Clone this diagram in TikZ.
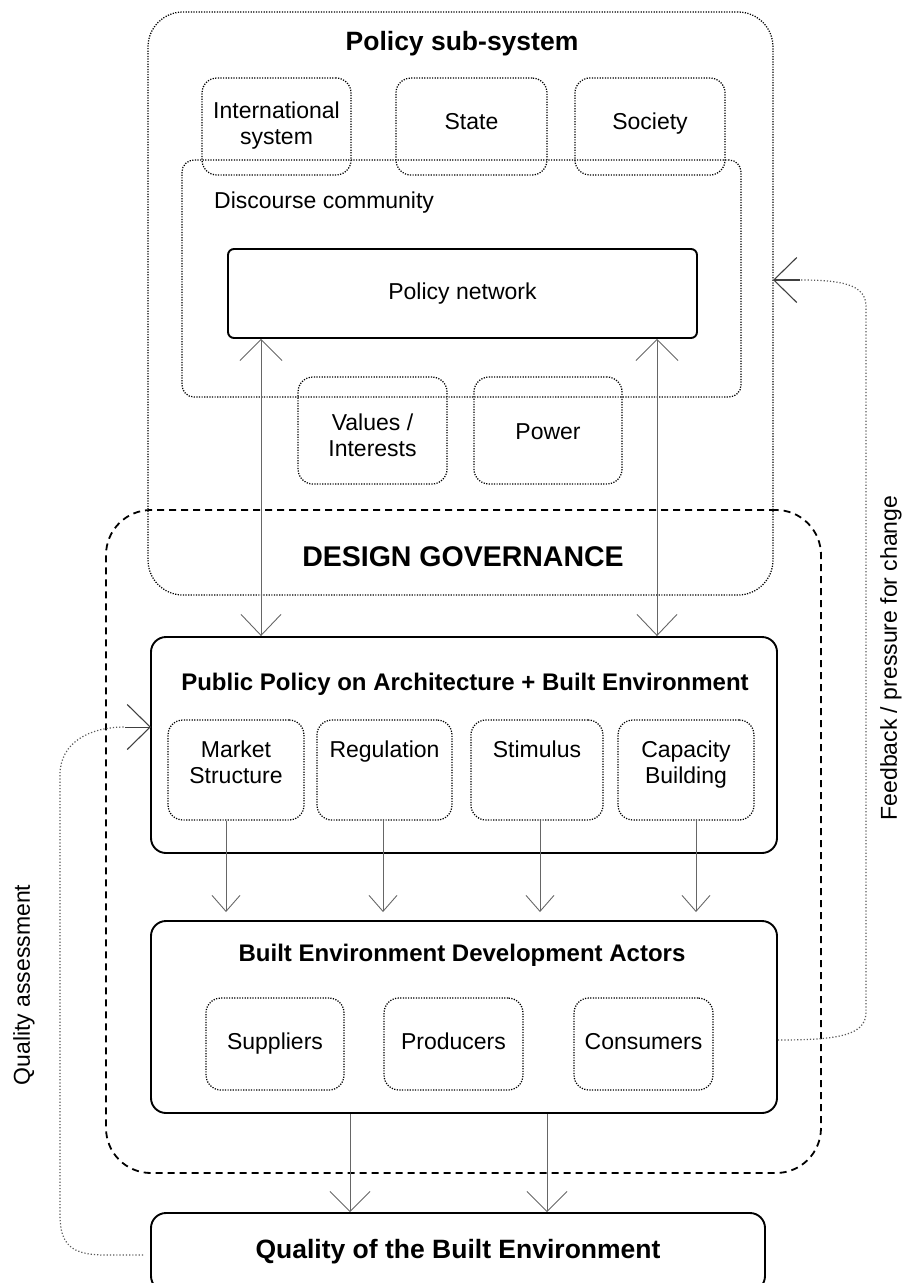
\documentclass[tikz,border=0pt]{standalone}
\usepackage{fontspec}
\setmainfont{Liberation Sans}
\usetikzlibrary{arrows.meta,calc}
\newcommand{\fsreg}{\fontsize{23}{26}\selectfont}
\newcommand{\fshead}{\fontsize{24}{28}\selectfont\bfseries}
\newcommand{\fstitle}{\fontsize{26.5}{30}\selectfont\bfseries}
\newcommand{\fsdg}{\fontsize{28.5}{32}\selectfont\bfseries}
\begin{document}
\begin{tikzpicture}[x=1pt,y=-1pt,
  dotbox/.style={draw=black, line width=1.25pt, dash pattern=on 1.2pt off 1.4pt, rounded corners=15pt, inner sep=0pt, align=center, font=\fsreg},
  solidbox/.style={draw=black, line width=1.9pt, rounded corners=15pt, inner sep=0pt, align=center},
  dashbox/.style={draw=black, line width=1.8pt, dash pattern=on 7pt off 5pt, rounded corners=45pt, inner sep=0pt},
  txt/.style={inner sep=0pt, align=center, font=\fsreg},
  oneline/.style={text height=16.5pt, text depth=4.8pt},
  conn/.style={draw=black!60, line width=0.9pt},
  biarr/.style={conn, {Straight Barb[length=21pt,width=42pt]}-{Straight Barb[length=21pt,width=40pt]}},
  smallarr/.style={conn, -{Straight Barb[length=16pt,width=28pt]}},
  qarr/.style={conn, -{Straight Barb[length=20pt,width=40pt]}},
  loopline/.style={draw=black!65, line width=1.2pt, dash pattern=on 1.2pt off 2pt},
  looptip/.style={-{Straight Barb[length=23pt,width=45pt,line width=1.1pt]}}
]
\clip (0,0) rectangle (907,1283);

% Policy sub-system
\node[dotbox, rounded corners=35pt, minimum width=625pt, minimum height=583pt] (psys) at (460.5,303.5) {};
\node[txt, font=\fstitle] (psysT) at (462,44) {Policy sub-system};
\node[dotbox, minimum width=149pt, minimum height=97pt] (intl) at (276.5,126.5) {};
\node[dotbox, minimum width=151pt, minimum height=97pt] (state) at (471.5,126.5) {};
\node[dotbox, minimum width=150pt, minimum height=97pt] (soc) at (650,126.5) {};
\node[txt] (intlT) at (276.5,126) {International\\system};
\node[txt, oneline] (stateT) at (471.5,124) {State};
\node[txt, oneline] (socT) at (650,124) {Society};
\node[dotbox, rounded corners=12pt, minimum width=559pt, minimum height=237pt] (disc) at (461.5,278.5) {};
\node[txt, anchor=west] (discT) at (214,203) {Discourse community};
\node[solidbox, rounded corners=6pt, minimum width=469pt, minimum height=89pt, font=\fsreg, oneline] (pnet) at (462.5,293.5) {Policy network};
\node[dotbox, minimum width=149pt, minimum height=107pt] (val) at (372.5,430.5) {};
\node[dotbox, minimum width=148pt, minimum height=107pt] (pow) at (548,430.5) {};
\node[txt] (valT) at (372.5,435) {Values /\\Interests};
\node[txt, oneline] (powT) at (548,434) {Power};

% Design governance
\node[dashbox, minimum width=715pt, minimum height=663pt] (dg) at (463.5,841.5) {};
\node[txt, font=\fsdg] (dgT) at (463,557) {DESIGN GOVERNANCE};

% Public policy
\node[solidbox, minimum width=626pt, minimum height=216pt] (pp) at (464,745) {};
\node[txt, font=\fshead] (ppT) at (465,684) {Public Policy on Architecture + Built Environment};
\node[dotbox, minimum width=136pt, minimum height=100pt] (mkt) at (236,770) {};
\node[dotbox, minimum width=135pt, minimum height=100pt] (reg) at (384.5,770) {};
\node[dotbox, minimum width=132pt, minimum height=100pt] (stim) at (537,770) {};
\node[dotbox, minimum width=136pt, minimum height=100pt] (cap) at (686,770) {};
\node[txt, anchor=north] (mktT) at (236,741) {Market\\Structure};
\node[txt, anchor=north] (regT) at (384.5,741) {Regulation};
\node[txt, anchor=north] (stimT) at (537,741) {Stimulus};
\node[txt, anchor=north] (capT) at (686,741) {Capacity\\Building};

% Built environment development actors
\node[solidbox, minimum width=626pt, minimum height=192pt] (bea) at (464,1017) {};
\node[txt, font=\fshead] (beaT) at (462,955) {Built Environment Development Actors};
\node[dotbox, oneline, minimum width=138pt, minimum height=92pt] (sup) at (275,1044) {Suppliers};
\node[dotbox, oneline, minimum width=139pt, minimum height=92pt] (prod) at (453.5,1044) {Producers};
\node[dotbox, oneline, minimum width=139pt, minimum height=92pt] (cons) at (643.5,1044) {Consumers};

% Quality
\node[solidbox, minimum width=614pt, minimum height=78pt, font=\fstitle, text height=19pt, text depth=5.5pt] (qual) at (458,1252) {Quality of the Built Environment};

% side labels
\node[txt, rotate=90] (qaT) at (24,985) {Quality assessment};
\node[txt, rotate=90] (fbT) at (891,658) {Feedback / pressure for change};

% bidirectional arrows
\draw[biarr] ([xshift=-201.5pt]pnet.south) -- ([xshift=-203pt]pp.north);
\draw[biarr] ([xshift=194.5pt]pnet.south) -- ([xshift=193pt]pp.north);

% policy instruments to actors
\draw[smallarr, shorten >=8pt] ([xshift=-10pt]mkt.south) -- ([xshift=-238pt]bea.north);
\draw[smallarr, shorten >=8pt] ([xshift=-1.5pt]reg.south) -- ([xshift=-81pt]bea.north);
\draw[smallarr, shorten >=8pt] ([xshift=3pt]stim.south) -- ([xshift=76pt]bea.north);
\draw[smallarr, shorten >=8pt] ([xshift=10pt]cap.south) -- ([xshift=232pt]bea.north);

% actors to quality
\draw[qarr] ([xshift=-114pt]bea.south) -- ([xshift=-108pt]qual.north);
\draw[qarr] ([xshift=83pt]bea.south) -- ([xshift=89pt]qual.north);

% feedback loop
\coordinate (fbtip) at (773,280);
\draw[loopline] ([yshift=-23pt]bea.east) .. controls (840,1040) and (866,1035) .. (866,1012) -- (866,306) .. controls (866,284) and (840,280) .. (800,280);
\draw[conn, draw=black!75, line width=1.1pt, looptip] (800,280) -- (fbtip);

% quality assessment loop
\coordinate (qatip) at (151,727);
\draw[loopline, shorten <=7pt] ([yshift=-3pt]qual.west) -- (105,1255) .. controls (72,1255) and (60,1245) .. (60,1215) -- (60,775) .. controls (60,742) and (90,727) .. (125,727);
\draw[conn, draw=black!75, line width=1pt, looptip] (125,727) -- (qatip);
\end{tikzpicture}
\end{document}
